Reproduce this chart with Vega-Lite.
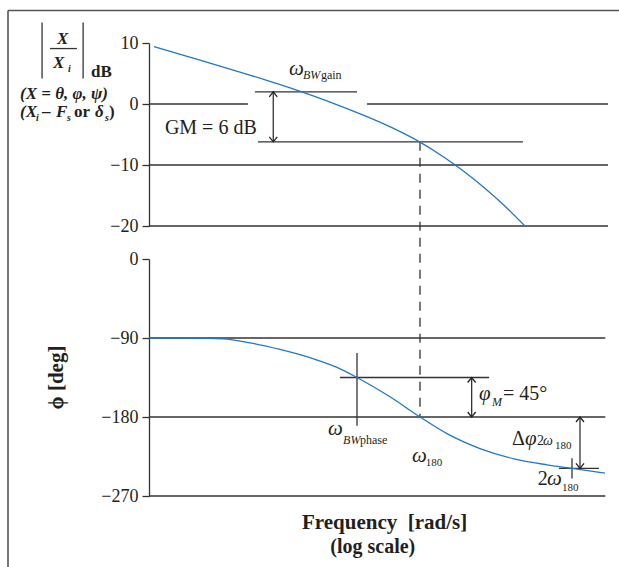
{
  "$schema": "https://vega.github.io/schema/vega-lite/v6.json",
  "background": "white",
  "padding": {"left": 7, "top": 9, "right": 0, "bottom": 0},
  "bounds": "flush",
  "spacing": 33,
  "datasets": {
    "mag": [
      {"f": 0.1078, "v": 9.42}, {"f": 0.1968, "v": 7.48}, {"f": 0.3594, "v": 5.52}, {"f": 0.6561, "v": 3.49},
      {"f": 0.985, "v": 2.02}, {"f": 1.619, "v": 0.07}, {"f": 2.542, "v": -1.88}, {"f": 3.994, "v": -4.05},
      {"f": 5.904, "v": -6.25}, {"f": 8.475, "v": -8.72}, {"f": 11.45, "v": -11.05}, {"f": 15.47, "v": -13.68},
      {"f": 20.91, "v": -16.6}, {"f": 28.68, "v": -20.0}
    ],
    "phase": [
      {"f": 0.1, "v": -90}, {"f": 0.1854, "v": -90.1}, {"f": 0.3047, "v": -91}, {"f": 0.4573, "v": -95.5},
      {"f": 0.718, "v": -103}, {"f": 1.18, "v": -113.5}, {"f": 1.693, "v": -123.5}, {"f": 2.288, "v": -135},
      {"f": 3.76, "v": -157}, {"f": 5.904, "v": -180}, {"f": 8.866, "v": -199}, {"f": 14.57, "v": -216},
      {"f": 23.94, "v": -227.4}, {"f": 39.94, "v": -234.5}, {"f": 58.17, "v": -238.5}, {"f": 95.6, "v": -244}
    ],
    "topH": [
      {"f": 0.1, "f2": 0.443, "v": 0}, {"f": 2.66, "f2": 100, "v": 0},
      {"f": 0.1, "f2": 100, "v": -10}, {"f": 0.1, "f2": 100, "v": -20},
      {"f": 0.493, "f2": 2.29, "v": 2}, {"f": 0.515, "f2": 27.8, "v": -6.2},
      {"f": 0.02254, "f2": 0.0338, "v": 9.09}
    ],
    "topV": [
      {"f": 0.649, "v": 2, "v2": -6.2},
      {"f": 0.02, "v": 13.37, "v2": 4.16}, {"f": 0.0371, "v": 13.37, "v2": 4.16}
    ],
    "topDash": [{"f": 5.904, "v": -6.2, "v2": -51.36}],
    "topUp": [{"f": 0.649, "v": 2}],
    "topDown": [{"f": 0.649, "v": -6.2}],
    "frameH": [{"f": 0.01198, "f2": 130, "v": 15.34}],
    "frameV": [{"f": 0.01198, "v": 15.34, "v2": -78}],
    "topItal20": [{"f": 0.822, "v": 4.82, "label": "ω"}],
    "topItal12": [{"f": 1.015, "v": 4.16, "label": "BW"}],
    "topReg12": [{"f": 1.33, "v": 4.16, "label": "gain"}],
    "topReg20": [{"f": 0.127, "v": -4.88, "label": "GM = 6 dB"}],
    "topBoldItal17": [
      {"f": 0.02506, "v": 9.91, "label": "X"}, {"f": 0.0236, "v": 5.97, "label": "X"},
      {"f": 0.01435, "v": 0.82, "label": "(X = θ, φ, ψ)"},
      {"f": 0.01435, "v": -2.2, "label": "(X"}, {"f": 0.02467, "v": -2.2, "label": "F"},
      {"f": 0.04437, "v": -2.2, "label": "δ"}
    ],
    "topBold17": [
      {"f": 0.0418, "v": 4.5, "label": "dB"},
      {"f": 0.02, "v": -2.2, "label": "–"}, {"f": 0.03234, "v": -2.2, "label": "or"},
      {"f": 0.05478, "v": -2.2, "label": ")"}
    ],
    "topBoldItal10": [
      {"f": 0.0296, "v": 5.31, "label": "i"}, {"f": 0.01826, "v": -2.86, "label": "i"},
      {"f": 0.02911, "v": -2.86, "label": "s"}, {"f": 0.05159, "v": -2.86, "label": "s"}
    ],
    "botH": [
      {"f": 0.1, "f2": 96, "v": -90}, {"f": 0.1, "f2": 96, "v": -180}, {"f": 0.1, "f2": 96, "v": -270},
      {"f": 1.77, "f2": 16.7, "v": -135}, {"f": 47.8, "f2": 87.3, "v": -238.5}
    ],
    "botV": [
      {"f": 2.288, "v": -107, "v2": -190}, {"f": 12.85, "v": -135, "v2": -180},
      {"f": 65.6, "v": -180, "v2": -238.5}, {"f": 58.17, "v": -227, "v2": -250}
    ],
    "botUp": [{"f": 12.85, "v": -135}, {"f": 65.6, "v": -180}],
    "botDown": [{"f": 12.85, "v": -180}, {"f": 65.6, "v": -238.5}],
    "botItal20": [
      {"f": 1.479, "v": -200.3, "label": "ω"}, {"f": 5.24, "v": -231.5, "label": "ω"},
      {"f": 14.35, "v": -160.6, "label": "φ"}, {"f": 28.7, "v": -212.3, "label": "φ"},
      {"f": 39.9, "v": -257.3, "label": "ω"}
    ],
    "botReg20": [
      {"f": 20.6, "v": -160.6, "label": "= 45°"}, {"f": 23.6, "v": -212.3, "label": "Δ"},
      {"f": 34.8, "v": -257.3, "label": "2"}
    ],
    "botItal12": [{"f": 1.855, "v": -210.6, "label": "BW"}, {"f": 17.46, "v": -167.4, "label": "M"}],
    "botReg12": [{"f": 2.39, "v": -210.6, "label": "phase"}],
    "botReg11": [
      {"f": 6.45, "v": -236.3, "label": "180"}, {"f": 45.0, "v": -216.8, "label": "180"},
      {"f": 50.0, "v": -264.2, "label": "180"}
    ],
    "botReg14": [{"f": 34.4, "v": -212.3, "label": "2"}],
    "botItal14": [{"f": 37.6, "v": -212.3, "label": "ω"}],
    "botBold21": [
      {"f": 1.0, "v": -307.5, "label": "Frequency\u2002[rad/s]"}
    ],
    "botBold20": [
      {"f": 1.53, "v": -334.5, "label": "(log scale)"}
    ]
  },
  "vconcat": [
    {
      "width": 459,
      "height": 183,
      "encoding": {
        "x": {"field": "f", "type": "quantitative", "scale": {"type": "log", "domain": [0.1, 100], "nice": false}, "axis": null},
        "y": {"field": "v", "type": "quantitative", "scale": {"domain": [-20, 10], "nice": false, "zero": false}, "axis": {"values": [10, 0, -10, -20], "title": null}}
      },
      "layer": [
        {"data": {"name": "frameH"}, "mark": {"type": "rule", "color": "#555", "strokeWidth": 1.6, "clip": false}, "encoding": {"x2": {"field": "f2"}}},
        {"data": {"name": "frameV"}, "mark": {"type": "rule", "color": "#555", "strokeWidth": 1.6, "clip": false}, "encoding": {"y2": {"field": "v2"}}},
        {"data": {"name": "topH"}, "mark": {"type": "rule", "color": "#333", "strokeWidth": 1.3, "clip": false}, "encoding": {"x2": {"field": "f2"}}},
        {"data": {"name": "topV"}, "mark": {"type": "rule", "color": "#333", "strokeWidth": 1.3, "clip": false}, "encoding": {"y2": {"field": "v2"}}},
        {"data": {"name": "topDash"}, "mark": {"type": "rule", "color": "#333", "strokeWidth": 1.3, "strokeDash": [9, 7], "clip": false}, "encoding": {"y2": {"field": "v2"}}},
        {"data": {"name": "topUp"}, "mark": {"type": "point", "shape": "M-1,1.25L0,0L1,1.25", "size": 64, "filled": false, "color": "#222", "strokeWidth": 1.3, "opacity": 1, "clip": false}},
        {"data": {"name": "topDown"}, "mark": {"type": "point", "shape": "M-1,-1.25L0,0L1,-1.25", "size": 64, "filled": false, "color": "#222", "strokeWidth": 1.3, "opacity": 1, "clip": false}},
        {"data": {"name": "mag"}, "mark": {"type": "line", "color": "#1f78c8", "strokeWidth": 1.3, "interpolate": "monotone", "clip": false}},
        {"data": {"name": "topItal20"}, "mark": {"type": "text", "align": "left", "baseline": "alphabetic", "font": "Liberation Serif", "fontSize": 21, "fontStyle": "italic", "color": "#231f20", "clip": false}, "encoding": {"text": {"field": "label"}}},
        {"data": {"name": "topItal12"}, "mark": {"type": "text", "align": "left", "baseline": "alphabetic", "font": "Liberation Serif", "fontSize": 12, "fontStyle": "italic", "color": "#231f20", "clip": false}, "encoding": {"text": {"field": "label"}}},
        {"data": {"name": "topReg12"}, "mark": {"type": "text", "align": "left", "baseline": "alphabetic", "font": "Liberation Serif", "fontSize": 12, "color": "#231f20", "clip": false}, "encoding": {"text": {"field": "label"}}},
        {"data": {"name": "topReg20"}, "mark": {"type": "text", "align": "left", "baseline": "alphabetic", "font": "Liberation Serif", "fontSize": 20, "color": "#231f20", "clip": false}, "encoding": {"text": {"field": "label"}}},
        {"data": {"name": "topBoldItal17"}, "mark": {"type": "text", "align": "left", "baseline": "alphabetic", "font": "Liberation Serif", "fontSize": 17, "fontWeight": "bold", "fontStyle": "italic", "color": "#231f20", "clip": false}, "encoding": {"text": {"field": "label"}}},
        {"data": {"name": "topBold17"}, "mark": {"type": "text", "align": "left", "baseline": "alphabetic", "font": "Liberation Serif", "fontSize": 17, "fontWeight": "bold", "color": "#231f20", "clip": false}, "encoding": {"text": {"field": "label"}}},
        {"data": {"name": "topBoldItal10"}, "mark": {"type": "text", "align": "left", "baseline": "alphabetic", "font": "Liberation Serif", "fontSize": 10, "fontWeight": "bold", "fontStyle": "italic", "color": "#231f20", "clip": false}, "encoding": {"text": {"field": "label"}}}
      ]
    },
    {
      "width": 459,
      "height": 237,
      "encoding": {
        "x": {"field": "f", "type": "quantitative", "scale": {"type": "log", "domain": [0.1, 100], "nice": false}, "axis": null},
        "y": {"field": "v", "type": "quantitative", "scale": {"domain": [-270, 0], "nice": false, "zero": false},
              "axis": {"values": [0, -90, -180, -270], "title": "ϕ [deg]", "titleFont": "Liberation Serif", "titleFontSize": 21, "titleFontWeight": "bold", "titleColor": "#231f20", "titleX": -93, "titleY": 118, "titleAlign": "center", "titleBaseline": "middle", "titleAngle": 270}}
      },
      "layer": [
        {"data": {"name": "botH"}, "mark": {"type": "rule", "color": "#333", "strokeWidth": 1.3, "clip": false}, "encoding": {"x2": {"field": "f2"}}},
        {"data": {"name": "botV"}, "mark": {"type": "rule", "color": "#333", "strokeWidth": 1.3, "clip": false}, "encoding": {"y2": {"field": "v2"}}},
        {"data": {"name": "botUp"}, "mark": {"type": "point", "shape": "M-1,1.25L0,0L1,1.25", "size": 64, "filled": false, "color": "#222", "strokeWidth": 1.3, "opacity": 1, "clip": false}},
        {"data": {"name": "botDown"}, "mark": {"type": "point", "shape": "M-1,-1.25L0,0L1,-1.25", "size": 64, "filled": false, "color": "#222", "strokeWidth": 1.3, "opacity": 1, "clip": false}},
        {"data": {"name": "phase"}, "mark": {"type": "line", "color": "#1f78c8", "strokeWidth": 1.3, "interpolate": "monotone", "clip": false}},
        {"data": {"name": "botItal20"}, "mark": {"type": "text", "align": "left", "baseline": "alphabetic", "font": "Liberation Serif", "fontSize": 21, "fontStyle": "italic", "color": "#231f20", "clip": false}, "encoding": {"text": {"field": "label"}}},
        {"data": {"name": "botReg20"}, "mark": {"type": "text", "align": "left", "baseline": "alphabetic", "font": "Liberation Serif", "fontSize": 20, "color": "#231f20", "clip": false}, "encoding": {"text": {"field": "label"}}},
        {"data": {"name": "botItal12"}, "mark": {"type": "text", "align": "left", "baseline": "alphabetic", "font": "Liberation Serif", "fontSize": 12, "fontStyle": "italic", "color": "#231f20", "clip": false}, "encoding": {"text": {"field": "label"}}},
        {"data": {"name": "botReg12"}, "mark": {"type": "text", "align": "left", "baseline": "alphabetic", "font": "Liberation Serif", "fontSize": 12, "color": "#231f20", "clip": false}, "encoding": {"text": {"field": "label"}}},
        {"data": {"name": "botReg11"}, "mark": {"type": "text", "align": "left", "baseline": "alphabetic", "font": "Liberation Serif", "fontSize": 11, "color": "#231f20", "clip": false}, "encoding": {"text": {"field": "label"}}},
        {"data": {"name": "botReg14"}, "mark": {"type": "text", "align": "left", "baseline": "alphabetic", "font": "Liberation Serif", "fontSize": 14, "color": "#231f20", "clip": false}, "encoding": {"text": {"field": "label"}}},
        {"data": {"name": "botItal14"}, "mark": {"type": "text", "align": "left", "baseline": "alphabetic", "font": "Liberation Serif", "fontSize": 14, "fontStyle": "italic", "color": "#231f20", "clip": false}, "encoding": {"text": {"field": "label"}}},
        {"data": {"name": "botBold21"}, "mark": {"type": "text", "align": "left", "baseline": "alphabetic", "font": "Liberation Serif", "fontSize": 21, "fontWeight": "bold", "color": "#231f20", "clip": false}, "encoding": {"text": {"field": "label"}}},
        {"data": {"name": "botBold20"}, "mark": {"type": "text", "align": "left", "baseline": "alphabetic", "font": "Liberation Serif", "fontSize": 20, "fontWeight": "bold", "color": "#231f20", "clip": false}, "encoding": {"text": {"field": "label"}}}
      ]
    }
  ],
  "config": {
    "view": {"stroke": null},
    "axis": {
      "grid": false,
      "domainColor": "#333",
      "domainWidth": 1.3,
      "tickColor": "#333",
      "tickWidth": 1.3,
      "tickSize": 7,
      "labelFont": "Liberation Serif",
      "labelFontSize": 18,
      "labelColor": "#231f20",
      "labelPadding": 4
    }
  }
}
